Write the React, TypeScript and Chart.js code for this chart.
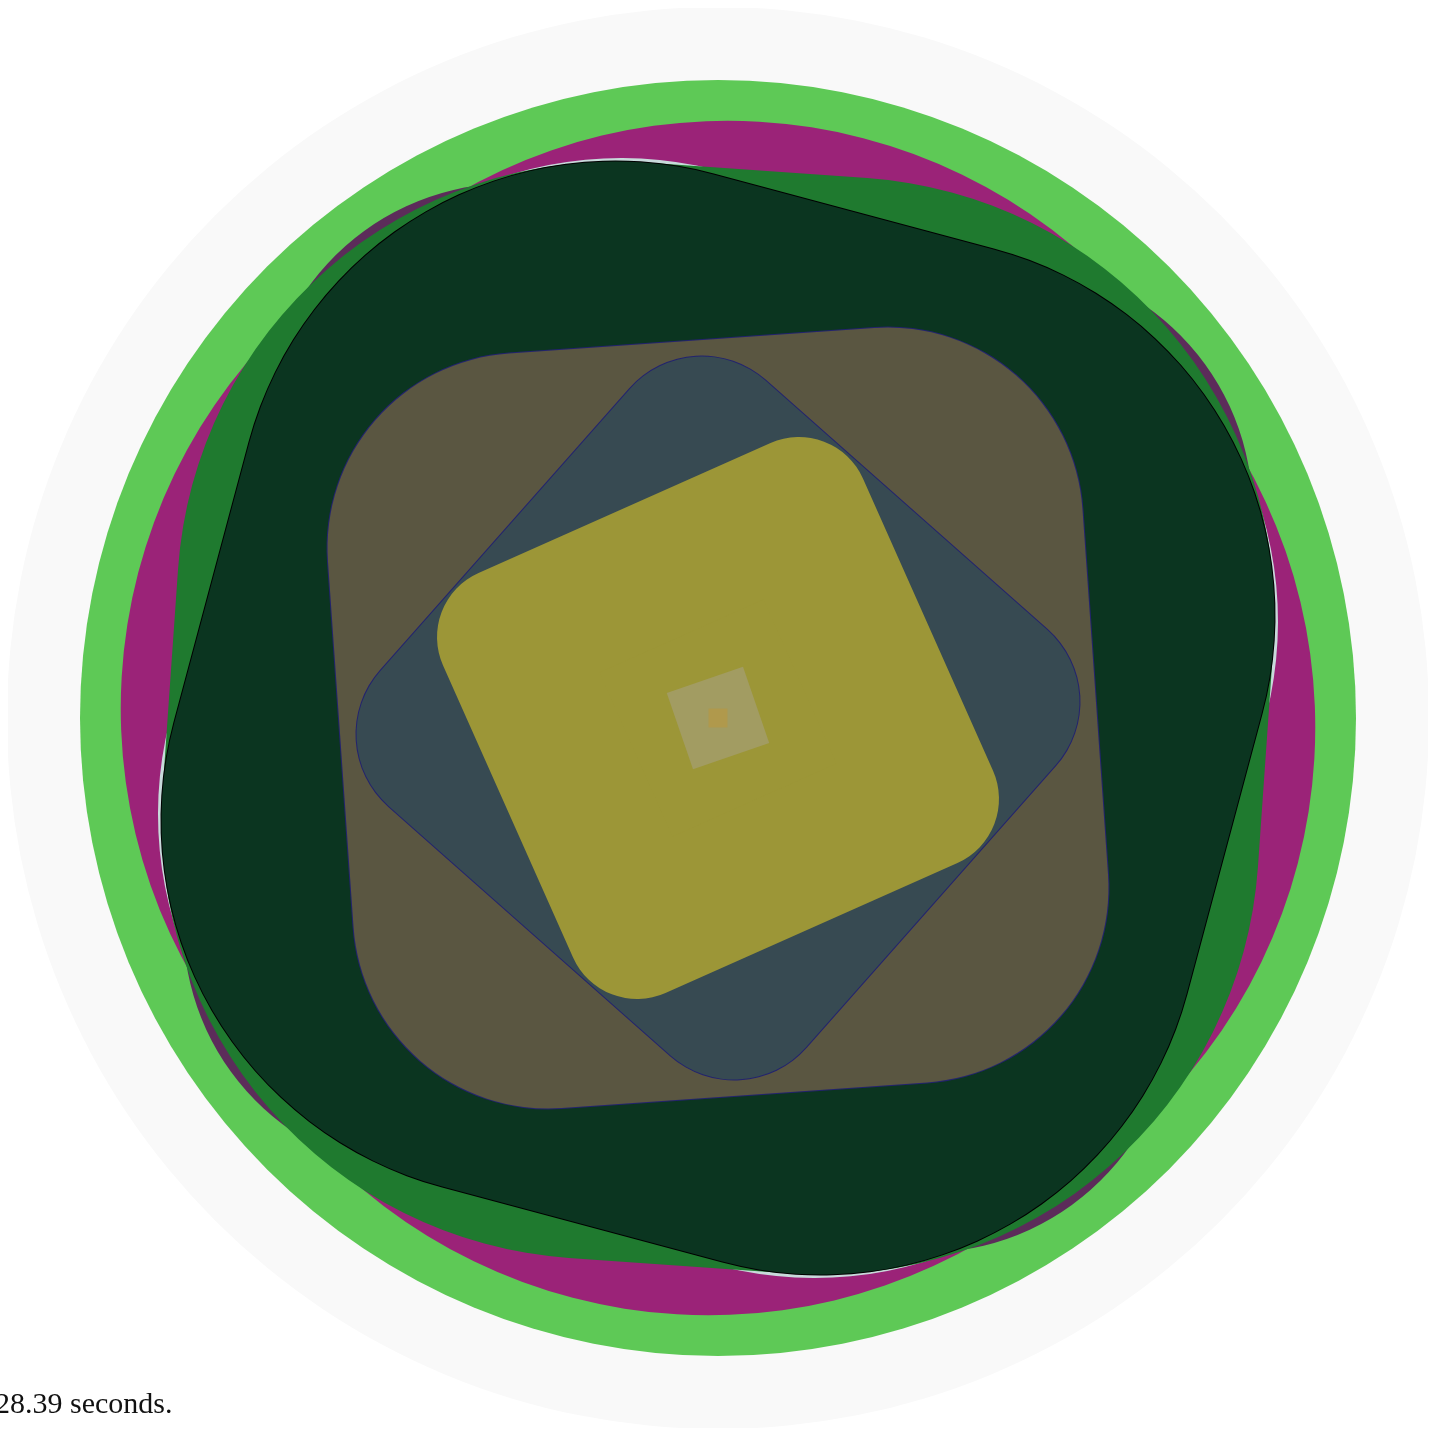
import React, { useEffect, useRef } from "react";
import { Chart, registerables } from "chart.js";

Chart.register(...registerables);

// Layers listed from the bottom of the stack to the top.
const layerNames = [
  "halo", "ring", "plum", "magenta", "mist", "forest", "pine-edge", "pine",
  "umber-edge", "umber", "slate-edge", "slate", "olive", "khaki", "amber",
];
const layerShapes = [
  "circle", "circle", "rect", "rect", "rect", "rect", "rect", "rect",
  "rect", "rect", "rect", "rect", "rect", "rect", "rect",
];
// size of the inner (unrounded) core of each layer
const layerCore = [711, 638, 353, 60, 205, 157, 205, 205, 259, 259, 266, 266, 226, 57, 13.4];
// rounding added around each core
const layerRound = [0, 0, 249, 538, 379, 438, 380, 379, 196, 195, 97, 96, 70, 0, 0];
// rotation in degrees
const layerTurn = [0, 0, 9, -36, 17, 4, 15, 15, -4, -4, 41.5, 41.5, -24, -19, 0];
const layerColors = [
  "#f9f9f9", "#5ec956", "#5c2c5a", "#9b2378", "#c8dadb", "#1f7a2f", "#000000", "#0b3520",
  "#23236e", "#5a5641", "#23236e", "#374a52", "#9c9637", "#a29c62", "#b0994c",
];
const centerX = [0];
const centerY = [0];
const caption = "28.39 seconds.";

export default function App() {
  const ref = useRef<HTMLCanvasElement | null>(null);

  useEffect(() => {
    document.documentElement.style.overflow = "hidden";
    const canvas = ref.current;
    if (!canvas) return;
    const n = layerNames.length;
    const datasets = layerNames.map((name, i) => ({
      label: name,
      data: [{ x: centerX[0], y: centerY[0] }],
      order: n - i,
      pointStyle: layerShapes[i] as any,
      pointRadius: layerCore[i],
      pointHoverRadius: layerCore[i],
      pointBorderWidth: layerRound[i] * 2,
      pointHoverBorderWidth: layerRound[i] * 2,
      pointRotation: layerTurn[i],
      pointBackgroundColor: layerColors[i],
      pointBorderColor: layerColors[i],
      clip: false as any,
    }));
    const chart = new Chart(canvas, {
      type: "scatter",
      data: { datasets },
      options: {
        responsive: false,
        animation: false,
        events: [],
        layout: { padding: 0, autoPadding: false },
        plugins: { legend: { display: false }, tooltip: { enabled: false }, title: { display: false } },
        scales: {
          x: { display: false, min: -1, max: 1 },
          y: { display: false, min: -1, max: 1 },
        },
      },
      plugins: [
        {
          id: "roundJoin",
          beforeDatasetDraw(c: any) {
            c.ctx.lineJoin = "round";
          },
        },
      ],
    });
    return () => chart.destroy();
  }, []);

  return (
    <>
      <canvas ref={ref} width={1420} height={1420} style={{ display: "block", width: 1420, height: 1420 }} />
      <div
        style={{
          position: "absolute",
          left: -5,
          top: 1388,
          fontFamily: "'Liberation Serif', serif",
          fontSize: 30,
          lineHeight: 1,
          color: "#111",
          whiteSpace: "nowrap",
        }}
      >
        {caption}
      </div>
    </>
  );
}
